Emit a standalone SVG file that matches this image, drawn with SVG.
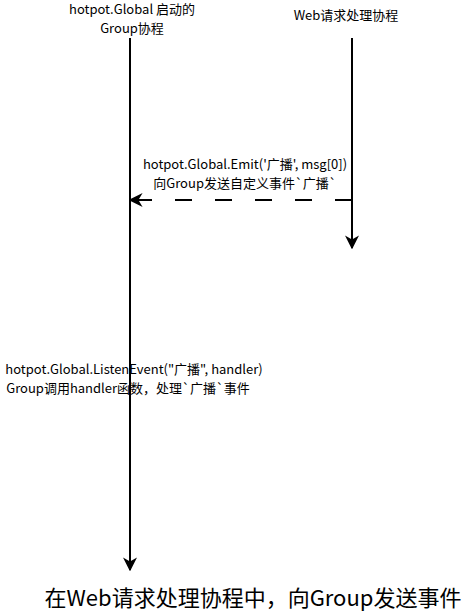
<svg xmlns="http://www.w3.org/2000/svg" width="468" height="614" viewBox="0 0 468 614">
<style>
text{font-family:"Noto Sans CJK SC","Noto Sans",sans-serif;font-size:13px;font-weight:400;fill:#000;text-anchor:middle}
.life{stroke:#000;stroke-width:2;fill:none}
.title{font-size:22px}
</style>
<defs>
<marker id="ahd" viewBox="0 0 10 10" refX="9" refY="5" markerWidth="14" markerHeight="14" orient="auto" markerUnits="userSpaceOnUse">
<path d="M0,0 L10,5 L0,10 L3,5 z" fill="#000"/>
</marker>
</defs>
<rect width="468" height="614" fill="#fff"/>
<g id="group">
<text x="132" y="14"><tspan x="132">hotpot.Global 启动的</tspan><tspan x="132" dy="19">Group协程</tspan></text>
</g>
<g id="web">
<text x="346" y="20">Web请求处理协程</text>
</g>
<g id="connectors">
<line class="life" x1="130" y1="38" x2="130" y2="570" marker-end="url(#ahd)"/>
<line class="life" x1="352" y1="38" x2="352" y2="248" marker-end="url(#ahd)"/>
<line x1="352" y1="200" x2="130" y2="200" stroke="#000" stroke-width="2" stroke-dasharray="17 23" fill="none" marker-end="url(#ahd)"/>
</g>
<g id="emit-label">
<text x="245" y="169"><tspan x="245">hotpot.Global.Emit('广播', msg[0])</tspan><tspan x="245" dy="19">向Group发送自定义事件`广播`</tspan></text>
</g>
<g id="listen-label">
<text x="134" y="374"><tspan x="134">hotpot.Global.ListenEvent("广播", handler)</tspan><tspan x="128" dy="19">Group调用handler函数，处理`广播`事件</tspan></text>
</g>
<text class="title" x="253" y="606">在Web请求处理协程中，向Group发送事件</text>
</svg>
